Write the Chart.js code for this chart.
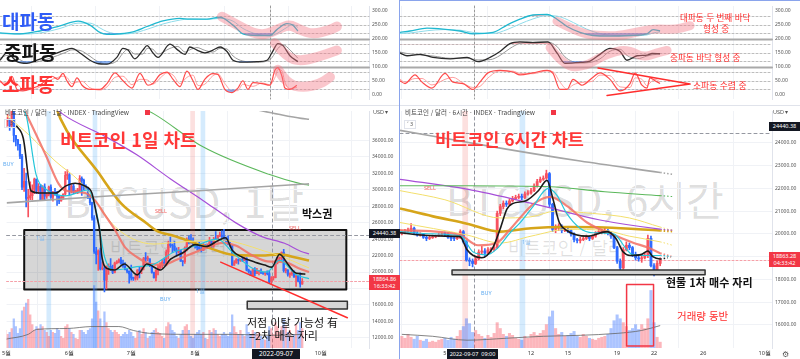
<!DOCTYPE html>
<html lang="ko">
<head>
<meta charset="utf-8">
<title>비트코인 차트</title>
<script src="https://cdn.jsdelivr.net/npm/chart.js@4.4.1/dist/chart.umd.min.js"></script>
<style>
  html, body { margin: 0; padding: 0; background: #fff; }
  body { position: relative; width: 800px; height: 359px; overflow: hidden; font-family: "Noto Sans CJK KR", "Noto Sans", sans-serif; }
  canvas { position: absolute; }
  .t { position: absolute; white-space: nowrap; line-height: 1; }
  .wm { color: rgba(0,0,0,0.15); }
  .red { color: #ff2b2b; }
  .sig { font-family: "Noto Sans", sans-serif; font-size: 5.5px; }
  .ax { font-family: "Noto Sans", sans-serif; font-size: 5.5px; color: #555; }
  .chip { position: absolute; width: 31px; font-family: "Noto Sans", sans-serif; font-size: 5.5px; color: #fff; text-align: center; line-height: 6.5px; padding: 1px 0; }
  .date { position: absolute; height: 10px; background: #131722; color: #fff; font-family: "Noto Sans", sans-serif; text-align: center; line-height: 10px; }
  .btn { position: absolute; font-family: "Noto Sans", sans-serif; font-size: 5.5px; color: #555; border: 1px solid #e0e3eb; padding: 0 2px; line-height: 7px; }
  .ln { position: absolute; }
</style>
</head>
<body>
<!-- watermarks sit behind the transparent canvases -->
<div class="t wm" style="left:64px;top:180px;font-size:41px">BTCUSD, 1날</div>
<div class="t wm" style="left:110px;top:238px;font-size:18px;color:rgba(0,0,0,0.12)">비트코인 / 달러</div>
<div class="t wm" style="left:446px;top:178px;font-size:41px">BTCUSD, 6시간</div>
<div class="t wm" style="left:508px;top:238px;font-size:18px;color:rgba(0,0,0,0.12)">비트코인 / 달러</div>

<canvas id="oscL" width="400" height="105" style="left:0px;top:0px"></canvas>
<canvas id="priceL" width="400" height="254" style="left:0px;top:105px"></canvas>
<canvas id="oscR" width="400" height="105" style="left:400px;top:0px"></canvas>
<canvas id="priceR" width="400" height="254" style="left:400px;top:105px"></canvas>

<div class="ln" style="left:0;top:105px;width:400px;height:1px;background:#e0e3eb"></div>
<div class="ln" style="left:400px;top:105px;width:400px;height:1px;background:#e0e3eb"></div>
<div class="ln" style="left:399px;top:0;width:1px;height:359px;background:#8aa4ec"></div>
<div class="ln" style="left:400px;top:0;width:400px;height:1px;background:#8aa4ec"></div>

<!-- left oscillator labels -->
<div class="t" style="left:2px;top:11px;font-size:19px;font-weight:700;color:#2f5cf6">대파동</div>
<div class="t" style="left:4px;top:42px;font-size:19px;font-weight:700;color:#141414">중파동</div>
<div class="t" style="left:2px;top:74px;font-size:19px;font-weight:700;color:#ff3434">소파동</div>

<!-- right oscillator notes -->
<div class="t red" style="left:680px;top:13px;font-size:8.6px">대파동 두 번째 바닥</div>
<div class="t red" style="left:703px;top:24px;font-size:8.6px">형성 중</div>
<div class="t red" style="left:670px;top:53px;font-size:8.6px">중파동 바닥 형성 중</div>
<div class="t red" style="left:693px;top:82px;font-size:8.8px">소파동 수렴 중</div>

<!-- left price pane -->
<div class="t" style="left:5px;top:109px;font-size:6.5px;color:#444">비트코인 / 달러 · 1날 · INDEX · TradingView</div>
<div class="ln" style="left:145px;top:110px;width:5px;height:5px;background:#f23645"></div>
<div class="btn" style="left:4px;top:119px">˅ 3</div>
<div class="t" style="left:60px;top:130px;font-size:18px;font-weight:700;color:#ff3838">비트코인 1일 차트</div>
<div class="t sig" style="left:3px;top:162px;color:#5ba8f0">BUY</div>
<div class="t sig" style="left:155px;top:209px;color:#f06060">SELL</div>
<div class="t sig" style="left:289px;top:226px;color:#f06060">SELL</div>
<div class="t sig" style="left:160px;top:297px;color:#5ba8f0">BUY</div>
<div class="t sig" style="left:36px;top:236px;color:#7fb8f0">1일</div>
<div class="t sig" style="left:196px;top:289px;color:#7fb8f0">1일</div>
<div class="t" style="left:302px;top:208px;font-size:11px;font-weight:700;color:#111">박스권</div>
<div class="t" style="left:247px;top:317px;font-size:11px;color:#111">저점 이탈 가능성 有</div>
<div class="t" style="left:249px;top:330px;font-size:11px;color:#111">=2차 매수 자리</div>
<div class="t ax" style="left:373px;top:110px">USD ▾</div>
<div class="chip" style="left:369px;top:229px;background:#131722">24440.38</div>
<div class="chip" style="left:369px;top:275px;background:#f23645">18864.86<br>16:33:42</div>
<div class="date" style="left:252px;top:349px;width:48px;font-size:6.5px">2022-09-07</div>

<!-- right price pane -->
<div class="t" style="left:405px;top:109px;font-size:6.5px;color:#444">비트코인 / 달러 · 6시간 · INDEX · TradingView</div>
<div class="ln" style="left:551px;top:110px;width:5px;height:5px;background:#f23645"></div>
<div class="btn" style="left:404px;top:120px">˅ 3</div>
<div class="t" style="left:435px;top:130px;font-size:17.5px;font-weight:700;color:#ff3838">비트코인 6시간 차트</div>
<div class="t sig" style="left:424px;top:186px;color:#f06060">SELL</div>
<div class="t sig" style="left:481px;top:291px;color:#5ba8f0">BUY</div>
<div class="t sig" style="left:522px;top:240px;color:#7fb8f0">1일</div>
<div class="t" style="left:666px;top:277px;font-size:11px;font-weight:700;color:#111">현물 1차 매수 자리</div>
<div class="t red" style="left:677px;top:311px;font-size:10.5px">거래량 동반</div>
<div class="t ax" style="left:773px;top:110px">USD ▾</div>
<div class="chip" style="left:769px;top:122px;background:#131722">24440.38</div>
<div class="chip" style="left:769px;top:252px;background:#f23645">18863.28<br>04:33:42</div>
<div class="date" style="left:447px;top:349px;width:51px;font-size:5.5px">2022-09-07&nbsp;&nbsp;09:00</div>
<div class="t" style="left:782px;top:350px;font-size:8px;color:#555">⚙</div>

<script>
// ---------- daily candles (day 0 = 2022-05-01) ----------
const leftFirstOpen = 37650;
const leftClose = [
  38470, 38530, 37750, 39700, 36580, 36040, 35500, 34060, 30300, 31020,
  28940, 29030, 29280, 30100, 31300, 29860, 30420, 28710, 30310, 29200,
  29430, 30300, 29100, 29650, 29540, 29200, 28630, 29030, 29470, 31730, 31800,
  29800, 30450, 29700, 29860, 29900, 31370, 31130, 30200, 30110, 29090,
  28420, 26570, 22490, 22130, 22580, 20380, 20470, 19020, 20550, 20700,
  20280, 19960, 21100, 21230, 21490, 21040, 20730, 20280, 20100, 19780,
  19300, 19240, 19300, 20230, 20190, 20550, 21630, 21590, 21590, 20850,
  19970, 19330, 20220, 20590, 20830, 21190, 20790, 22430, 23390, 23230,
  23160, 22680, 22450, 22580, 21310, 21250, 22950, 23850, 23780, 23640, 23300,
  23270, 22990, 22820, 22620, 23310, 22960, 23180, 23810, 23160, 23950,
  23940, 24400, 24440, 24310, 24100, 23850, 23340, 23190, 20830, 21140,
  21520, 21400, 21530, 21370, 21680, 20240, 20040, 19550, 20290, 19800, 20050,
  20130, 19950, 19830, 19990, 19800, 18790, 19290, 19320, 21360, 21650,
  21830, 22400, 20170, 20240, 19700, 19800, 20110, 19420, 19540, 18880,
  18550, 18860
];
const leftHigh = [
  38800, 39150, 38650, 40000, 39800, 36600, 36100, 35500, 34300, 32600,
  32000, 30050, 30950, 30600, 31400, 31300, 30750, 30650, 30500, 30700,
  29600, 30450, 30600, 29800, 30150, 29800, 29350, 29200, 29500, 32200, 32400,
  31950, 30600, 30650, 29950, 30150, 31700, 31550, 31300, 30600, 30300,
  29400, 28500, 26850, 23000, 22700, 22900, 21250, 20750, 20750, 21000,
  21650, 20850, 21200, 21400, 21600, 21800, 21450, 21150, 20350, 20150,
  20850, 19400, 19600, 20300, 20700, 20650, 21800, 22350, 21950, 21600,
  20850, 20000, 20300, 20850, 21150, 21500, 21650, 22700, 23750, 24250,
  23400, 23750, 22950, 23000, 22650, 21400, 23050, 24150, 24400, 24550, 24150,
  23500, 23450, 23600, 23200, 23450, 23300, 23400, 24200, 23900, 24200,
  24900, 24450, 24850, 25000, 25200, 24250, 24400, 23600, 23200, 21400,
  21650, 21600, 21650, 21800, 21800, 21750, 20350, 20150, 20400, 20550, 20450,
  20200, 20400, 20000, 20000, 20150, 20150, 19450, 19450, 21400, 21800,
  21850, 22450, 22750, 20450, 20300, 19900, 20150, 20150, 19600, 19600,
  19900, 19200
];
const leftLow = [
  37600, 37700, 37200, 37600, 35800, 35300, 34800, 33750, 30000, 29800,
  27900, 26700, 28800, 28750, 29500, 29500, 29500, 28650, 28700, 28750,
  28950, 29250, 28950, 28600, 29300, 28100, 28300, 28600, 28850, 29300, 31250,
  29350, 29600, 29500, 29550, 29500, 29800, 29300, 30000, 30050, 28900,
  28150, 26300, 22250, 21000, 20200, 20250, 20250, 17600, 17950, 19700,
  20200, 19800, 19900, 21000, 21100, 20950, 20550, 20250, 19900, 18650,
  19000, 18980, 19000, 19050, 19300, 19800, 20250, 21200, 21350, 20650,
  19870, 19250, 18950, 19650, 20400, 20500, 20800, 20750, 21600, 23000,
  22350, 22600, 21950, 22300, 21300, 20750, 21050, 22550, 23400, 23500, 23250,
  22900, 22700, 22700, 22450, 22650, 22950, 22850, 23200, 22900, 23000,
  23900, 23650, 24300, 24150, 23800, 23700, 23300, 23050, 20800, 20800,
  21050, 20950, 21300, 21250, 21350, 20150, 19850, 19550, 19600, 19550, 19850,
  19650, 19800, 19700, 19600, 19650, 18700, 18550, 19000, 19300, 21000,
  21350, 21500, 20000, 19900, 19500, 19350, 19600, 19350, 18250, 18800,
  18150, 18500
];
const leftVolume = [
  18, 14, 16, 20, 30, 22, 15, 20, 38, 42, 46, 50, 34, 24, 18, 22, 20, 24, 22, 18,
  16, 12, 18, 16, 15, 20, 18, 12, 10, 22, 24,
  20, 16, 14, 10, 9, 18, 18, 16, 14, 18, 20, 30, 64, 47, 38, 30, 22, 37, 26, 20,
  18, 16, 18, 16, 14, 12, 14, 16, 14, 18,
  16, 12, 10, 16, 18, 14, 20, 16, 10, 12, 16, 18, 20, 16, 15, 12, 10, 22, 26, 24,
  18, 16, 12, 10, 14, 18, 22, 24, 18, 12, 10,
  14, 16, 18, 14, 16, 10, 9, 18, 16, 20, 18, 14, 12, 14, 16, 14, 12, 16, 34, 22,
  16, 14, 18, 14, 12, 24, 16, 14, 18, 16, 14,
  16, 12, 9, 8, 12, 22, 20, 14, 26, 22, 16, 22, 30, 22, 16, 18, 12, 14, 24, 18,
  26, 20
];
const leftMonthDays = [0.5, 31, 61, 92, 123, 153];
const leftMonthLabels = ['5월', '6월', '7월', '8월', '9월', '10월'];
const leftPriceTicks = [12000, 14000, 16000, 18000, 20000, 22000, 24000, 26000, 28000, 30000, 32000, 34000, 36000];
const leftBuyDays = [21, 43.4, 95.8];
const leftSellDays = [90.8];

// moving averages, left (day, price)
const leftBlackX = [5.2, 8.6, 12.4, 16.2, 24.3, 29.1, 33.8, 38.6, 41.9, 44.3, 45.8, 46.7, 49.6, 52.9, 57.7, 63.9, 68.6, 75.3, 80.1, 86.3, 92, 97.2, 103.9, 106.8, 110.1, 114.9, 121.1, 125.8, 129.2, 133, 137.3, 140.1, 143.5, 145.5];
const leftBlackY = [37780, 36240, 29840, 29600, 29600, 30430, 30780, 30430, 29600, 26770, 24760, 22000, 20400, 20250, 20970, 19660, 20970, 20250, 21560, 22380, 23330, 23100, 23920, 24160, 22620, 21800, 21200, 20850, 20600, 22150, 20850, 20000, 19780, 19750];
const leftCyanX = [5, 10, 14.8, 19.5, 29.1, 40, 44.3, 48.1, 52.9, 62.4, 72, 81.5, 91, 103, 110.1, 119.6, 126.8, 133, 141.1, 147.3];
const leftCyanY = [40500, 39000, 31860, 30080, 29250, 29960, 27100, 21800, 20250, 20600, 20960, 22400, 23100, 24000, 22400, 20500, 20000, 21440, 19660, 19200];
const leftSalmonX = [5, 10, 19.5, 25.8, 29.1, 38.6, 43.4, 48, 52.9, 58, 63.9, 70, 76.7, 83, 89.6, 97, 105.4, 112, 119.6, 127, 135.4, 142, 147.3];
const leftSalmonY = [41500, 39200, 34200, 30700, 29900, 29600, 28700, 27000, 25200, 23000, 21800, 21000, 20900, 21500, 22150, 22900, 23550, 23200, 22050, 21300, 21200, 20500, 20000];
const leftGoldX = [24, 26.7, 44.7, 56.2, 68.6, 73.4, 81.5, 95.8, 111.6, 124.4, 132.5, 142, 147.3];
const leftGoldY = [40500, 38600, 32200, 28300, 25900, 25000, 24400, 23200, 22050, 22000, 22150, 21700, 21400];
const leftPurpleX = [20, 27.6, 48.1, 63.9, 80.1, 95.8, 111.6, 124.4, 135.4, 143.5, 147.3];
const leftPurpleY = [41000, 39200, 36500, 34200, 31300, 28700, 26000, 24300, 23500, 22500, 22200];
const leftGreenX = [67, 72, 95.8, 127.8, 143.5, 147.3];
const leftGreenY = [39800, 39200, 35200, 31860, 30700, 30550];
const leftGrayX = [0.5, 48, 95.8, 143.5, 147.3];
const leftGrayY = [28400, 29200, 29900, 30650, 30700];
const leftGrayHiX = [120, 132.5, 143.5, 147.3];
const leftGrayHiY = [39800, 39150, 38650, 38550];
const leftYellowX = [0.5, 12, 24, 36, 44, 52, 62, 72, 82, 95, 105, 115, 125, 135, 143.5, 147.3];
const leftYellowY = [39000, 36500, 33500, 31000, 28500, 25800, 24000, 23400, 23600, 23800, 23900, 23400, 22600, 21800, 20900, 20500];
const leftVolMaX = [0, 11, 15, 30, 42, 55, 62, 70, 90, 110, 130, 144];
const leftVolMaY = [9, 14, 19, 20, 22, 22, 18, 15, 14, 14, 13, 14];

// oscillators, left (day, level)
const leftOscBigX = [0.5, 10, 19.5, 29.1, 37.7, 43.4, 48.1, 51.5, 57.7, 63.9, 70.6, 78.2, 86.3, 91, 99.1, 105.4, 111.6, 116.3, 123, 129.2, 132.5, 137.3, 140.1, 142.5];
const leftOscBigFast = [220, 217, 227, 245, 262, 248, 222, 215, 217, 224, 243, 263, 272, 269, 269, 276, 248, 217, 211, 211, 232, 253, 248, 227];
const leftOscBigSlow = [218, 216, 220, 236, 255, 255, 238, 225, 216, 219, 233, 252, 266, 270, 268, 272, 262, 236, 216, 210, 218, 240, 250, 240];
const leftOscMidX = [0.5, 3.8, 8.6, 13.3, 18.1, 24.3, 31.5, 34.8, 38.6, 43.4, 46.7, 51.5, 56.2, 59.1, 61.5, 64.8, 68.6, 70.6, 73.4, 75.8, 81.5, 85.3, 88.7, 91, 94.4, 98.2, 102, 105.4, 108.7, 111.6, 116.3, 123, 127.8, 130.1, 133, 135.4, 138.7, 142.5];
const leftOscMidFast = [123, 149, 118, 112, 123, 139, 159, 165, 149, 123, 112, 109, 133, 165, 159, 128, 159, 175, 149, 133, 180, 159, 144, 170, 159, 149, 159, 170, 154, 123, 116, 118, 123, 149, 182, 175, 139, 118];
const leftOscMidSlow = [130, 140, 130, 115, 117, 130, 150, 160, 158, 137, 120, 110, 120, 148, 162, 145, 145, 165, 162, 145, 165, 172, 152, 160, 168, 158, 152, 165, 163, 138, 120, 116, 120, 132, 165, 178, 160, 130];
const leftOscSmallX = [0.5, 2.9, 6.2, 8.6, 11.4, 16.2, 19.5, 25.3, 28.1, 30.5, 32.4, 34.8, 37.2, 39.6, 43.4, 48.1, 51.5, 55.3, 59.1, 63.4, 67.2, 71, 73.4, 76.7, 80.1, 83, 86.3, 89.6, 92.5, 94.9, 98.2, 102, 104.4, 107.7, 111.1, 113.9, 116.3, 118.7, 121.1, 125.4, 129.2, 131.6, 133, 134.9, 136.3, 138.7, 142];
const leftOscSmallFast = [50, 34, 66, 19, 14, 24, 34, 66, 55, 76, 50, 29, 60, 34, 19, 19, 40, 78, 50, 24, 76, 34, 40, 71, 81, 55, 29, 84, 50, 19, 56, 75, 72, 19, 8, 24, 50, 19, 43, 40, 34, 88, 97, 66, 24, 19, 34];
const leftOscSmallSlow = [45, 42, 50, 40, 20, 18, 28, 55, 62, 66, 62, 40, 45, 48, 25, 17, 28, 62, 66, 36, 55, 52, 38, 58, 78, 70, 40, 62, 70, 33, 38, 68, 74, 40, 14, 15, 38, 33, 30, 42, 36, 62, 90, 85, 45, 22, 26];

// ---------- 6-hour candles (day = day of September) ----------
const rightFirstOpen = 20000;
const rightClose = [
  20050, 20120,
  20130, 20250, 20030, 19950,  19980, 19850, 19800, 19830,  19870, 19900, 19960, 20000,
  19990, 19850, 19800, 19790,  19820, 20100, 19650, 18850,  18800, 18700, 18900, 19200,
  19250, 19150, 19300, 19300,  19400, 20900, 21200, 21350,  21300, 21450, 21550, 21600,
  21650, 21600, 21750, 21800,  21900, 22100, 22300, 22400,  22450, 22650, 21300, 20200,
  20250, 20350, 20150, 20200,  20150, 20000, 19750, 19700,  19750, 19800, 19850, 19800,
  19900, 20050, 20100, 20100,  20150, 20050, 19900, 19400,  18800, 18500, 19300, 19500,
  19400, 19100, 18950, 18900,  18950, 19050, 19800, 18600,
  18400, 18700, 18860
];
const rightHigh = [
  20150, 20200,
  20250, 20450, 20300, 20100,  20050, 20000, 19900, 19900,  19950, 19950, 20020, 20050,
  20080, 20050, 19900, 19880,  19900, 20180, 20150, 19700,  18950, 18900, 19000, 19300,
  19450, 19350, 19400, 19400,  19550, 21000, 21300, 21450,  21450, 21550, 21650, 21700,
  21750, 21750, 21850, 21900,  22000, 22200, 22400, 22500,  22550, 22800, 22700, 21350,
  20400, 20450, 20400, 20300,  20250, 20200, 20050, 19800,  19850, 19900, 19950, 19900,
  19950, 20100, 20200, 20200,  20250, 20200, 20100, 19950,  19450, 18900, 19400, 19650,
  19600, 19450, 19200, 19050,  19050, 19150, 19950, 19900,
  18700, 18800, 18950
];
const rightLow = [
  19950, 20000,
  20050, 20100, 19980, 19900,  19900, 19800, 19700, 19750,  19800, 19830, 19880, 19920,
  19900, 19800, 19700, 19700,  19750, 19800, 19600, 18800,  18600, 18550, 18650, 18850,
  19100, 19000, 19100, 19200,  19250, 19350, 20800, 21100,  21200, 21250, 21400, 21500,
  21550, 21500, 21550, 21700,  21750, 21850, 22050, 22250,  22350, 22400, 21200, 20100,
  20050, 20150, 20050, 20100,  20050, 19900, 19650, 19600,  19600, 19700, 19750, 19700,
  19750, 19850, 20000, 20000,  20000, 19950, 19800, 19350,  18700, 18270, 18450, 19250,
  19300, 19000, 18850, 18800,  18750, 18900, 18950, 18550,
  18150, 18350, 18600
];
const rightVolume = [
  12, 10,
  14, 11, 9, 12,  8, 7, 9, 6,  7, 6, 8, 9,  10, 8, 11, 9,  12, 18, 22, 30,
  25, 16, 18, 14,  12, 10, 13, 11,  15, 26, 20, 14,  12, 15, 13, 10,  9, 8, 12, 10,
  14, 16, 13, 15,  18, 24, 32, 38,  20, 14, 16, 12,  13, 15, 17, 12,  11, 14, 12, 10,
  9, 8, 10, 11,  12, 14, 20, 28,  34, 30, 26, 22,  18, 20, 24, 19,  24, 20, 30, 59,
  26, 11, 6
];
const rightTickDays = [5, 12, 15, 19, 22, 26, 31];
const rightTickLabels = ['5', '12', '15', '19', '22', '26', '10월'];
const rightPriceTicks = [16000, 17000, 18000, 19000, 20000, 21000, 22000, 23000, 24000];
const rightBuyDays = [11.3];
const rightSellDays = [6.65];

const rightGrayX = [1.35, 9.5, 16, 22.5, 23.5];
const rightGrayY = [24550, 23770, 23200, 22700, 22620];
const rightGreenX = [1.35, 6.8, 13.55, 18, 22.5, 23.5];
const rightGreenY = [22115, 22115, 22070, 21850, 21680, 21640];
const rightPurpleX = [1.35, 6.8, 12.16, 17.61, 22.5, 23.5];
const rightPurpleY = [22400, 21970, 21330, 20610, 20210, 20160];
const rightGoldX = [1.35, 4.03, 6.8, 9.5, 12, 15, 18, 22.5, 23.5];
const rightGoldY = [21120, 20770, 20450, 20100, 20250, 20300, 20280, 20150, 20120];
const rightYellowAX = [1.35, 5, 9.5, 12, 14, 17, 20, 22.5, 23.5];
const rightYellowAY = [21900, 21500, 20700, 20750, 21000, 20900, 20700, 20300, 20150];
const rightYellowBX = [1.35, 6.8, 9.5, 12, 15, 18, 20, 22.5, 23.5];
const rightYellowBY = [20500, 19950, 19600, 19900, 20200, 20150, 19900, 19650, 19500];
const rightSalmonX = [1.35, 6.23, 7.69, 9.2, 10.3, 11.1, 12.16, 13.55, 15, 16.55, 18.7, 20.3, 21.5, 22.5, 23.4];
const rightSalmonY = [20170, 19950, 19500, 19600, 20200, 20700, 21300, 21630, 21200, 20500, 19960, 19610, 19400, 19150, 19000];
const rightCyanX = [1.35, 4, 6.3, 7.3, 8.4, 9.2, 10.3, 11.1, 12.16, 13.4, 14.1, 14.9, 15.98, 17, 18.7, 19.8, 20.2, 21.4, 22.5, 23.4];
const rightCyanY = [20100, 20000, 19900, 19200, 19080, 19330, 20050, 20480, 21200, 22000, 21700, 20900, 20250, 20050, 20000, 19300, 19100, 19050, 19050, 19000];
const rightBlackX = [1.35, 3, 5, 6.23, 6.8, 7.3, 8, 8.9, 9.48, 10.05, 10.5, 11.6, 12.6, 13.3, 13.8, 14.3, 14.9, 16.55, 18.2, 18.9, 19.5, 20.05, 21, 21.5, 21.9, 22.5, 23.1];
const rightBlackY = [20050, 19950, 19900, 19880, 19300, 19050, 18950, 19400, 20200, 21100, 21330, 21460, 21900, 22350, 21500, 20500, 20150, 19900, 20100, 19800, 19200, 19050, 19100, 19250, 19000, 18900, 18950];
const rightVolMaX = [1.5, 4, 6.8, 10, 13, 16, 19, 21, 22.5];
const rightVolMaY = [14, 12, 8, 10, 12, 13, 15, 18, 23];

const rightOscBigX = [1.35, 2.16, 3.55, 4.85, 6.23, 7.28, 8.91, 10.05, 11.1, 12.16, 13.3, 14.11, 14.93, 15.98, 17.04, 18.42, 20.05, 21.43, 21.92, 22.49];
const rightOscBigFast = [222, 227, 237, 234, 227, 217, 222, 248, 269, 284, 286, 269, 243, 222, 211, 209, 211, 217, 232, 227];
const rightOscBigSlow = [218, 220, 228, 232, 230, 222, 218, 232, 252, 270, 282, 280, 268, 245, 225, 212, 210, 213, 220, 224];
const rightOscMidX = [1.35, 1.92, 2.98, 4.03, 5.42, 6.8, 7.69, 8.67, 9.48, 10.29, 11.1, 12.16, 13.38, 14.11, 14.76, 15.98, 16.8, 17.61, 18.42, 19.24, 19.8, 20.62, 21.43, 21.84, 22.49];
const rightOscMidFast = [149, 139, 144, 133, 128, 133, 118, 133, 154, 182, 188, 186, 188, 149, 112, 115, 120, 144, 165, 154, 123, 139, 141, 147, 146];
const rightOscMidSlow = [152, 147, 142, 138, 130, 130, 124, 125, 140, 165, 183, 187, 187, 172, 135, 113, 115, 128, 155, 162, 140, 128, 138, 142, 145];
const rightOscSmallX = [1.35, 1.76, 2.57, 3.14, 3.95, 5.01, 5.66, 6.47, 7.28, 7.85, 8.5, 9.48, 10.54, 11.1, 12.16, 13.3, 13.79, 14.36, 14.93, 15.42, 16.15, 16.96, 17.61, 18.42, 19.24, 20.05, 20.46, 21.02, 21.43, 21.67, 22.08, 22.49];
const rightOscSmallFast = [50, 40, 71, 45, 24, 76, 45, 40, 19, 45, 78, 87, 81, 71, 78, 87, 76, 19, 19, 55, 34, 60, 78, 55, 14, 40, 78, 34, 24, 60, 50, 40];
const rightOscSmallSlow = [55, 45, 58, 58, 35, 55, 62, 42, 26, 30, 60, 85, 84, 76, 75, 85, 82, 45, 20, 35, 44, 48, 70, 68, 28, 26, 60, 55, 32, 42, 55, 46];

const oscTicks = [0, 50, 100, 150, 200, 250, 300];
const oscDashLevels = [20, 50, 80, 120, 150, 180, 220, 250, 280];
const oscBandLevels = [100, 200];

// ---------- drawing ----------
Chart.defaults.font.family = '"Noto Sans", "Liberation Sans", sans-serif';
Chart.defaults.color = '#555';

const UP = '#f7525f', DOWN = '#2f6bff';
const VUP = 'rgba(247,82,95,0.42)', VDOWN = 'rgba(47,107,255,0.40)';
const PINK = 'rgba(242,118,133,0.42)';
const NOTES = {};

function drawNotes(chart, list) {
  const ctx = chart.ctx, a = chart.chartArea;
  const px = v => chart.scales.x.getPixelForValue(v);
  const py = v => chart.scales.y.getPixelForValue(v);
  ctx.save();
  list.forEach(n => {
    ctx.setLineDash(n.dash || []);
    ctx.lineWidth = n.width || 1;
    ctx.strokeStyle = n.color || '#000';
    ctx.lineCap = 'round';
    ctx.lineJoin = 'round';
    if (n.kind === 'hline') {
      const y = Math.round(py(n.y)) + 0.5;
      ctx.beginPath(); ctx.moveTo(a.left, y); ctx.lineTo(a.right, y); ctx.stroke();
    } else if (n.kind === 'vline') {
      const x = Math.round(px(n.x)) + 0.5;
      ctx.beginPath(); ctx.moveTo(x, a.top); ctx.lineTo(x, a.bottom); ctx.stroke();
    } else if (n.kind === 'rect') {
      const x1 = px(n.x1), x2 = px(n.x2), y1 = py(n.y1), y2 = py(n.y2);
      if (n.fill) { ctx.fillStyle = n.fill; ctx.fillRect(x1, y1, x2 - x1, y2 - y1); }
      if (n.color) ctx.strokeRect(x1, y1, x2 - x1, y2 - y1);
    } else if (n.kind === 'path') {
      const p = n.pts.map(q => [px(q[0]), py(q[1])]);
      ctx.beginPath();
      ctx.moveTo(p[0][0], p[0][1]);
      if (n.smooth) {
        for (let i = 1; i < p.length - 1; i++) {
          ctx.quadraticCurveTo(p[i][0], p[i][1], (p[i][0] + p[i + 1][0]) / 2, (p[i][1] + p[i + 1][1]) / 2);
        }
        ctx.lineTo(p[p.length - 1][0], p[p.length - 1][1]);
      } else {
        p.slice(1).forEach(q => ctx.lineTo(q[0], q[1]));
      }
      ctx.stroke();
    }
  });
  ctx.restore();
}

Chart.register({
  id: 'notes',
  beforeDatasetsDraw(chart) { drawNotes(chart, (NOTES[chart.canvas.id] || {}).under || []); },
  afterDatasetsDraw(chart) { drawNotes(chart, (NOTES[chart.canvas.id] || {}).over || []); }
});

const pts = (xs, ys) => xs.map((x, i) => ({x, y: ys[i]}));

function candles(xs, firstOpen, close, high, low, vol, bodyW, volW) {
  const open = close.map((c, i) => i ? close[i - 1] : firstOpen);
  const col = close.map((c, i) => c >= open[i] ? UP : DOWN);
  const vcol = close.map((c, i) => c >= open[i] ? VUP : VDOWN);
  return [
    {type: 'bar', data: xs.map((x, i) => ({x, y: [Math.min(low[i], open[i], close[i]), Math.max(high[i], open[i], close[i])]})),
     backgroundColor: col, barThickness: 1, grouped: false, order: 6},
    {type: 'bar', data: xs.map((x, i) => ({x, y: [open[i], close[i]]})),
     backgroundColor: col, barThickness: bodyW, minBarLength: 1, grouped: false, order: 5},
    {type: 'bar', yAxisID: 'yv', data: xs.map((x, i) => ({x, y: vol[i]})),
     backgroundColor: vcol, barThickness: volW, grouped: false, order: 10}
  ];
}

function stripes(days, color, w) {
  return {type: 'bar', yAxisID: 'yb', data: days.map(x => ({x, y: 1})), backgroundColor: color, barThickness: w, grouped: false, order: 20};
}

function ma(xs, ys, color, width, tailFrom, order, axis) {
  return {type: 'line', yAxisID: axis || 'y', data: pts(xs, ys), borderColor: color, borderWidth: width,
    pointRadius: 0, cubicInterpolationMode: 'monotone', fill: false, order: order || 3,
    segment: {borderDash: c => c.p0.parsed.x >= tailFrom ? [1.5, 2] : undefined}};
}

function osc(xs, ys, color, width, order, lowLevel) {
  return {type: 'line', data: pts(xs, ys), borderColor: color, borderWidth: width, pointRadius: 0,
    cubicInterpolationMode: 'monotone', order,
    fill: lowLevel == null ? false : {target: {value: lowLevel}, above: 'rgba(0,0,0,0)', below: 'rgba(66,130,235,0.6)'}};
}

function oscTop(xs, ys, level) {
  return {type: 'line', data: pts(xs, ys), borderWidth: 0, borderColor: 'rgba(0,0,0,0)', pointRadius: 0,
    cubicInterpolationMode: 'monotone', order: 9,
    fill: {target: {value: level}, above: 'rgba(240,95,105,0.5)', below: 'rgba(0,0,0,0)'}};
}

function xAxis(min, max, ticks, labels, show) {
  return {type: 'linear', min, max, offset: false,
    afterBuildTicks: s => { s.ticks = ticks.map(v => ({value: v})); },
    afterFit: s => { s.height = show ? 11 : 0; },
    ticks: {display: show, autoSkip: false, maxRotation: 0, padding: 2, font: {size: 5.5}, color: '#333',
      callback: v => labels[ticks.indexOf(v)]},
    grid: {color: '#f0f2f6', drawTicks: false}, border: {display: false}};
}

function yAxis(min, max, ticks, w, grid) {
  return {position: 'right', min, max,
    afterBuildTicks: s => { s.ticks = ticks.map(v => ({value: v})); },
    afterFit: s => { s.width = w; },
    ticks: {padding: 3, font: {size: 5}, color: '#555', callback: v => v.toFixed(2)},
    grid: {display: grid, color: '#f0f2f6', drawTicks: false}, border: {color: '#e0e3eb'}};
}

function chart(id, datasets, scales) {
  return new Chart(document.getElementById(id), {
    type: 'bar',
    data: {datasets},
    options: {
      responsive: false, animation: false, events: [], devicePixelRatio: 1,
      layout: {padding: 0},
      plugins: {legend: {display: false}, tooltip: {enabled: false}},
      scales
    }
  });
}

const leftDays = leftClose.map((c, i) => i);
const rightTimes = rightClose.map((c, i) => 1.5 + i * 0.25);
const L = {min: 0.5, max: 176.4, tail: 144, cross: 129.4, w: 31};
const R = {min: 1.35, max: 31.59, tail: 22.5, cross: 7.375, w: 28};

function oscNotes(cross, over) {
  const under = oscDashLevels.map(v => ({kind: 'hline', y: v, color: '#bdbdbd', dash: [2, 2]}))
    .concat(oscBandLevels.map(v => ({kind: 'hline', y: v, color: '#a9a9a9', width: 2})))
    .concat([{kind: 'vline', x: cross, color: '#9a9a9a', dash: [2, 2]}]);
  return {under, over};
}

// left oscillator
NOTES.oscL = oscNotes(L.cross, [
  {kind: 'path', smooth: true, color: PINK, width: 10, pts: [[106.3, 278], [112, 255], [118.7, 228], [123, 216], [127.7, 215], [134, 237], [138.7, 250], [143.5, 231], [149.7, 215], [157.8, 231], [161.1, 243]]},
  {kind: 'path', smooth: true, color: PINK, width: 10, pts: [[131.6, 183], [137.3, 133], [143.5, 120], [151.6, 133], [161.1, 158]]},
  {kind: 'path', smooth: true, color: PINK, width: 10, pts: [[133, 89], [137.3, 38], [144.9, 26], [153, 38], [157.8, 63]]}
]);
chart('oscL', [
  osc(leftOscBigX, leftOscBigFast, '#1fb8d0', 1.3, 1, 220),
  osc(leftOscBigX, leftOscBigSlow, '#8fdcea', 1, 2),
  osc(leftOscMidX, leftOscMidFast, '#2b2b2b', 1.3, 1, 120),
  osc(leftOscMidX, leftOscMidSlow, '#9a9a9a', 1, 2),
  osc(leftOscSmallX, leftOscSmallFast, '#ff4b4b', 1.2, 1, 20),
  osc(leftOscSmallX, leftOscSmallSlow, '#ffa0a0', 1, 2)
], {x: xAxis(L.min, L.max, leftMonthDays, leftMonthLabels, false), y: yAxis(-15, 316, oscTicks, L.w, false)});

// left price
NOTES.priceL = {
  under: [
    {kind: 'rect', x1: 9.06, x2: 165.4, y1: 25107, y2: 17885, fill: 'rgba(0,0,0,0.16)', color: '#111', width: 2},
    {kind: 'hline', y: 24440.38, color: '#9598a1', dash: [3, 3]},
    {kind: 'hline', y: 18864.86, color: '#f5a0a8', dash: [2, 2]},
    {kind: 'vline', x: L.cross, color: '#9598a1', dash: [3, 3]}
  ],
  over: [
    {kind: 'rect', x1: 117.3, x2: 165.9, y1: 16464, y2: 15517, fill: '#d6d6d6', color: '#333', width: 1.5},
    {kind: 'path', color: '#ff2d2d', width: 1.5, pts: [[104.4, 21200], [165.9, 14451]]}
  ]
};
chart('priceL', [
  stripes(leftBuyDays, 'rgba(66,165,245,0.22)', 4),
  stripes(leftSellDays, 'rgba(239,83,80,0.18)', 4),
  ...candles(leftDays, leftFirstOpen, leftClose, leftHigh, leftLow, leftVolume, 1.6, 1.6),
  ma(leftVolMaX, leftVolMaY, '#666', 0.8, 999, 9, 'yv'),
  ma(leftGrayX, leftGrayY, '#a5a5a5', 1.6, L.tail, 4),
  ma(leftGrayHiX, leftGrayHiY, '#a5a5a5', 1.6, L.tail, 4),
  ma(leftGreenX, leftGreenY, '#5cb85c', 1.1, L.tail, 4),
  ma(leftPurpleX, leftPurpleY, '#a64fd8', 1.2, L.tail, 4),
  ma(leftYellowX, leftYellowY, '#f3df6c', 1, L.tail, 4),
  ma(leftGoldX, leftGoldY, '#d6a51a', 2.6, L.tail, 4),
  ma(leftSalmonX, leftSalmonY, 'rgba(242,110,100,0.85)', 2.2, L.tail, 3),
  ma(leftCyanX, leftCyanY, '#26c6da', 1.2, L.tail, 2),
  ma(leftBlackX, leftBlackY, '#1b1b1b', 1.6, L.tail, 1)
], {
  x: xAxis(L.min, L.max, leftMonthDays, leftMonthLabels, true),
  y: yAxis(10780, 39550, leftPriceTicks, L.w, true),
  yv: {axis: 'y', type: 'linear', display: false, min: 0, max: 243},
  yb: {axis: 'y', type: 'linear', display: false, min: 0, max: 1}
});

// right oscillator
NOTES.oscR = oscNotes(R.cross, [
  {kind: 'path', smooth: true, color: PINK, width: 9, pts: [[14.11, 262], [15.3, 236], [16.55, 214], [18.2, 209], [19.5, 212], [20.86, 226], [22.24, 236], [23.6, 231], [24.93, 246]]},
  {kind: 'path', smooth: true, color: PINK, width: 9, pts: [[13.55, 168], [14.76, 96], [16.55, 104], [17.37, 127], [18.99, 158], [20.05, 158], [21.1, 133], [22.24, 149], [23.06, 158]]},
  {kind: 'path', color: '#ff2d2d', width: 1.5, pts: [[17.45, 95], [24.93, 38.3], [18.18, -2.6]]}
]);
chart('oscR', [
  oscTop(rightOscBigX, rightOscBigFast, 280),
  oscTop(rightOscMidX, rightOscMidFast, 180),
  osc(rightOscBigX, rightOscBigFast, '#1fb8d0', 1.3, 1, 220),
  osc(rightOscBigX, rightOscBigSlow, '#8fdcea', 1, 2),
  osc(rightOscMidX, rightOscMidFast, '#2b2b2b', 1.3, 1, 120),
  osc(rightOscMidX, rightOscMidSlow, '#9a9a9a', 1, 2),
  osc(rightOscSmallX, rightOscSmallFast, '#ff4b4b', 1.2, 1, 20),
  osc(rightOscSmallX, rightOscSmallSlow, '#ffa0a0', 1, 2)
], {x: xAxis(R.min, R.max, rightTickDays, rightTickLabels, false), y: yAxis(-15, 316, oscTicks, R.w, false)});

// right price
NOTES.priceR = {
  under: [
    {kind: 'hline', y: 24440.38, color: '#9598a1', dash: [3, 3]},
    {kind: 'hline', y: 18863.28, color: '#f5a0a8', dash: [2, 2]},
    {kind: 'vline', x: R.cross, color: '#9598a1', dash: [3, 3]}
  ],
  over: [
    {kind: 'rect', x1: 5.58, x2: 26.15, y1: 18415, y2: 18200, fill: '#d0d0d0', color: '#333', width: 1.5},
    {kind: 'rect', x1: 19.77, x2: 21.96, y1: 17772, y2: 15072, color: '#f23645', width: 1.5}
  ]
};
chart('priceR', [
  stripes(rightBuyDays, 'rgba(66,165,245,0.22)', 5),
  stripes(rightSellDays, 'rgba(239,83,80,0.18)', 5),
  ...candles(rightTimes, rightFirstOpen, rightClose, rightHigh, rightLow, rightVolume, 2.2, 2.4),
  ma(rightVolMaX, rightVolMaY, '#666', 0.8, 999, 9, 'yv'),
  ma(rightGrayX, rightGrayY, '#a5a5a5', 1.6, R.tail, 4),
  ma(rightGreenX, rightGreenY, '#5cb85c', 1.1, R.tail, 4),
  ma(rightPurpleX, rightPurpleY, '#a64fd8', 1.2, R.tail, 4),
  ma(rightYellowAX, rightYellowAY, '#f3df6c', 1, R.tail, 4),
  ma(rightYellowBX, rightYellowBY, '#f3df6c', 1, R.tail, 4),
  ma(rightGoldX, rightGoldY, '#d6a51a', 2.6, R.tail, 4),
  ma(rightSalmonX, rightSalmonY, 'rgba(242,110,100,0.85)', 2.2, R.tail, 3),
  ma(rightCyanX, rightCyanY, '#26c6da', 1.2, R.tail, 2),
  ma(rightBlackX, rightBlackY, '#1b1b1b', 1.6, R.tail, 1)
], {
  x: xAxis(R.min, R.max, rightTickDays, rightTickLabels, true),
  y: yAxis(14986, 25400, rightPriceTicks, R.w, true),
  yv: {axis: 'y', type: 'linear', display: false, min: 0, max: 243},
  yb: {axis: 'y', type: 'linear', display: false, min: 0, max: 1}
});
</script>
</body>
</html>
